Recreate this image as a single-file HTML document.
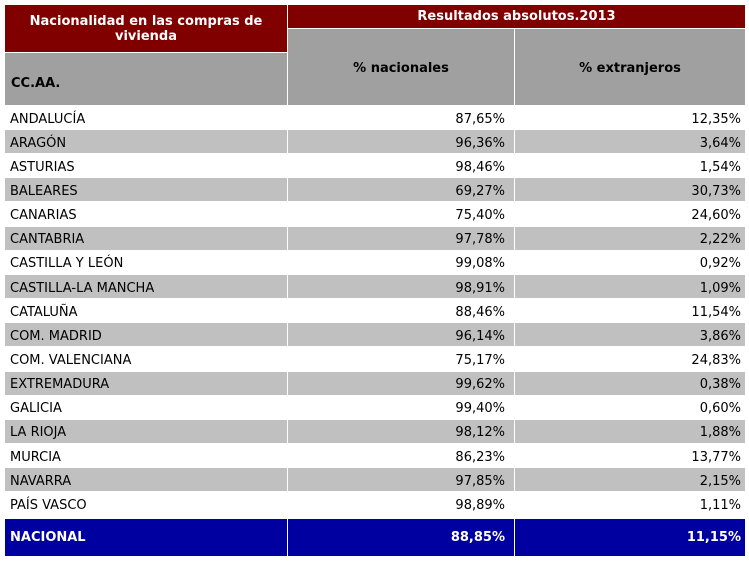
<!DOCTYPE html>
<html><head><meta charset="utf-8"><style>
body{margin:0;width:749px;height:563px;background:#fff;position:relative;overflow:hidden;font-family:"DejaVu Sans","Liberation Sans",sans-serif;font-size:13px;color:#000}
.c{position:absolute;box-sizing:border-box;display:flex;align-items:center;white-space:nowrap}
.h{font-weight:bold;color:#fff;justify-content:center;text-align:center;font-size:13px;line-height:15px}
.r{justify-content:flex-end;padding-right:4px;padding-top:3px}
.l{padding-left:5px;padding-top:3px}
</style></head><body>
<div class="c h" style="left:5px;top:5px;width:282px;height:47px;background:#800000">Nacionalidad en las compras de<br>vivienda</div>
<div class="c h" style="left:288px;top:5px;width:457px;height:23px;background:#800000">Resultados absolutos.2013</div>
<div class="c l" style="left:5px;top:53px;width:282px;height:52px;background:#a0a0a0;font-weight:bold;padding-left:6px;padding-top:8px">CC.AA.</div>
<div class="c" style="left:288px;top:29px;width:226px;height:76px;background:#a0a0a0;font-weight:bold;justify-content:center;padding-top:3px">% nacionales</div>
<div class="c" style="left:515px;top:29px;width:230px;height:76px;background:#a0a0a0;font-weight:bold;justify-content:center;padding-top:3px">% extranjeros</div>
<div id="rows"></div>
<script>
const regions=["ANDALUCÍA","ARAGÓN","ASTURIAS","BALEARES","CANARIAS","CANTABRIA","CASTILLA Y LEÓN","CASTILLA-LA MANCHA","CATALUÑA","COM. MADRID","COM. VALENCIANA","EXTREMADURA","GALICIA","LA RIOJA","MURCIA","NAVARRA","PAÍS VASCO"];
const nacionales=["87,65%","96,36%","98,46%","69,27%","75,40%","97,78%","99,08%","98,91%","88,46%","96,14%","75,17%","99,62%","99,40%","98,12%","86,23%","97,85%","98,89%"];
const extranjeros=["12,35%","3,64%","1,54%","30,73%","24,60%","2,22%","0,92%","1,09%","11,54%","3,86%","24,83%","0,38%","0,60%","1,88%","13,77%","2,15%","1,11%"];
const total=["NACIONAL","88,85%","11,15%"];
const host=document.getElementById('rows');
function cell(cls,x,y,w,h,bg,txt,name,pr){
  const d=document.createElement('div');
  d.className='c '+cls;
  d.style.cssText=`left:${x}px;top:${y}px;width:${w}px;height:${h}px;background:${bg}`;
  if(pr!==undefined) d.style.paddingRight=pr+'px';
  d.textContent=txt;
  
  
  host.appendChild(d);return d;
}
regions.forEach((r,i)=>{
  const y=106+i*24.15, bg=i%2?'#c0c0c0':'#fff';
  cell('l',5,y,282,23,bg,r,'region-cell');
  cell('r',288,y,226,23,bg,nacionales[i],'nacionales-cell',9);
  cell('r',515,y,230,23,bg,extranjeros[i],'extranjeros-cell',4);
});
const ty=519;
[cell('l',5,ty,282,37,'#0000a0',total[0],'total-label'),
 cell('r',288,ty,226,37,'#0000a0',total[1],'total-nacionales',9),
 cell('r',515,ty,230,37,'#0000a0',total[2],'total-extranjeros',4)].forEach(d=>{d.style.color='#fff';d.style.fontWeight='bold';d.style.paddingTop='0';});
</script>
</body></html>
